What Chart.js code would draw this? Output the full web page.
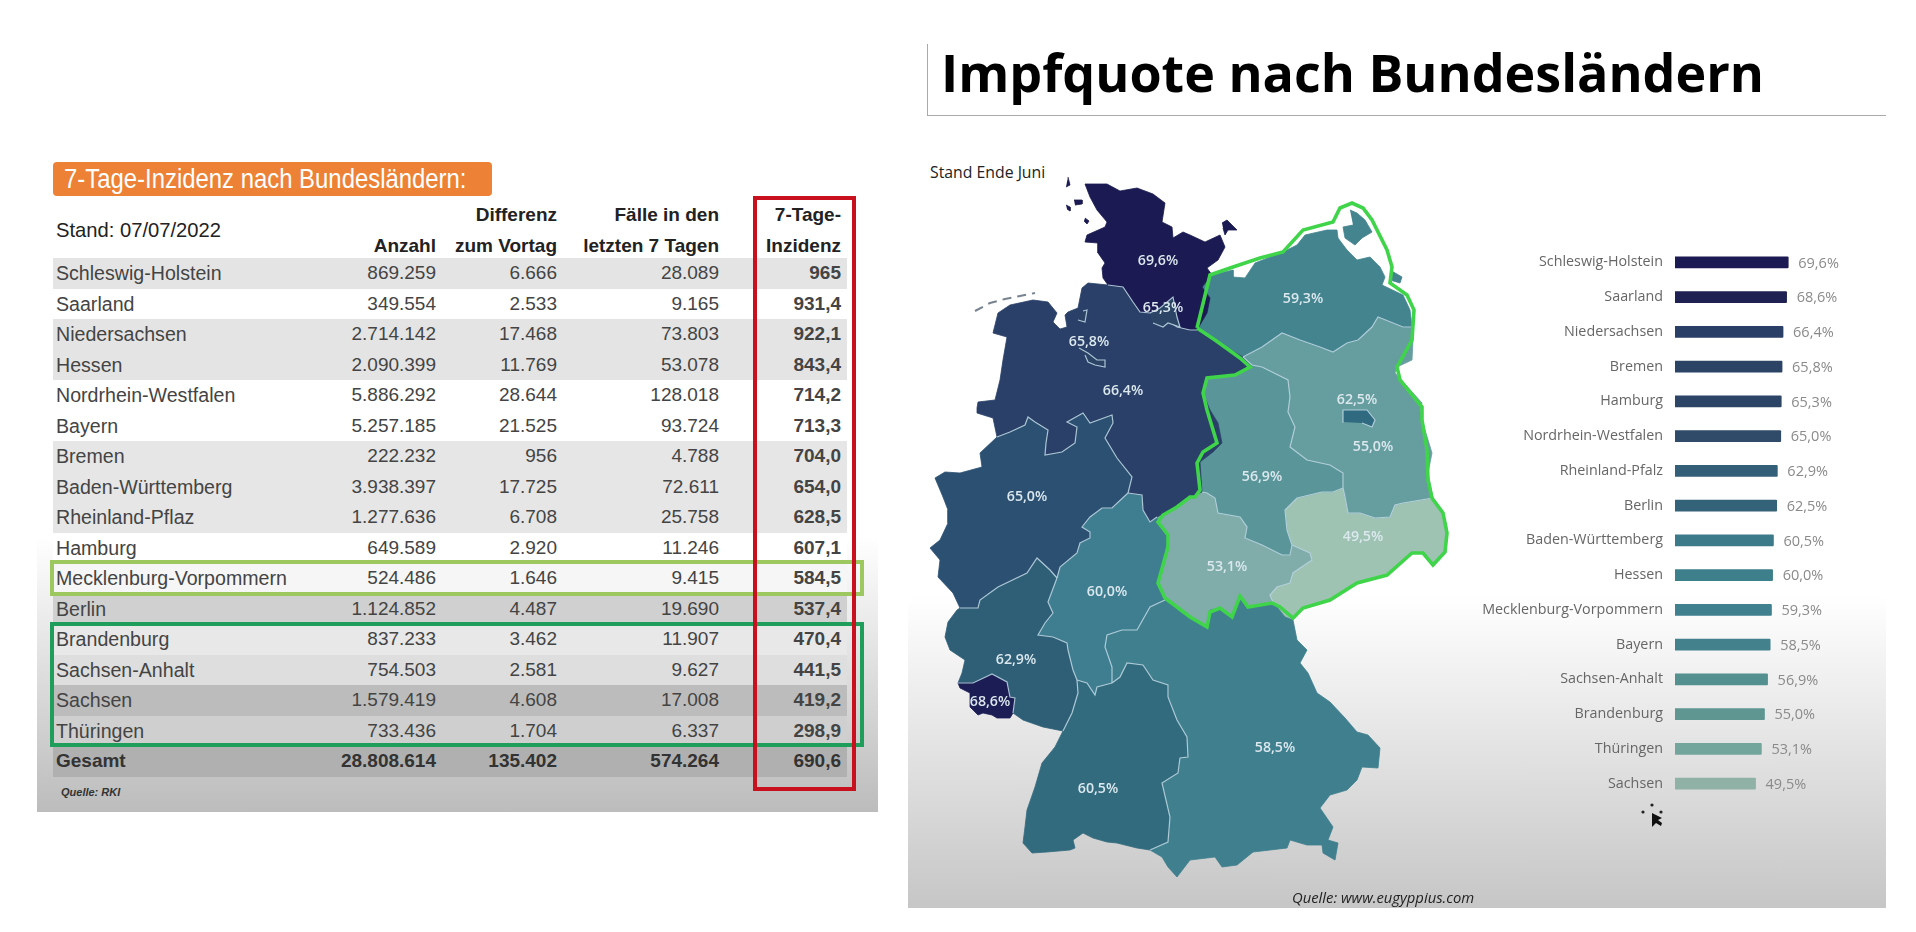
<!DOCTYPE html>
<html lang="de">
<head>
    <meta charset="UTF-8">
    <title>7-Tage-Inzidenz und Impfquote nach Bundesländern</title>
    <script src="https://cdn.jsdelivr.net/npm/chart.js"></script>
    <style>
        html, body { margin: 0; background: #fff; }
        #page { position: relative; width: 1916px; height: 932px; overflow: hidden; font-family: "Liberation Sans", sans-serif; }
        #page > * { position: absolute; }
        #leftPanel { left: 37px; top: 140px; width: 841px; height: 672px; background: linear-gradient(#fff 0, #fff 59%, #bcbcbc 100%); }
        #rightPanel { left: 908px; top: 125px; width: 978px; height: 783px; background: linear-gradient(#fff 0, #fff 60%, #c6c6c6 100%); }
        #orange { left: 53px; top: 162px; width: 439px; height: 34px; line-height: 34px; background: #ed8136; border-radius: 4px; color: #fff; white-space: nowrap; overflow: hidden; }
        #orange span { display: inline-block; font-size: 27px; margin-left: 11px; transform: scaleX(0.885); transform-origin: left center; }
        #stand { left: 56px; top: 219px; font-size: 20.2px; color: #222; }
        table { border-collapse: collapse; table-layout: fixed; width: 794px; font-size: 19px; color: #444; }
        td { padding: 0; text-align: right; height: 30.5px; line-height: 30.5px; white-space: nowrap; }
        td:first-child { text-align: left; padding-left: 3px; }
        td:last-child { padding-right: 6px; font-weight: bold; }
        #rows td:first-child { font-size: 19.6px; }
        #head { left: 53px; top: 200px; color: #222; font-weight: bold; }
        #rows { left: 53px; top: 258px; }
        .total td { font-weight: bold; color: #333; }
        #rows .total td:first-child { font-size: 19px; }
        .box { box-sizing: border-box; }
        #redBox { left: 753px; top: 196px; width: 103px; height: 595px; border: 4px solid #c8101e; }
        #limeBox { left: 50px; top: 560px; width: 814px; height: 36px; border: 4px solid #9dc860; }
        #greenBox { left: 50px; top: 622px; width: 814px; height: 125px; border: 4px solid #1e9e5a; }
        #rki { left: 61px; top: 786px; font-size: 11px; font-style: italic; color: #333; }
        #title { left: 941px; top: 36px; font-family: "Open Sans", sans-serif; font-weight: 700; font-size: 52px; line-height: 72px; color: #000; white-space: nowrap; }
        #ruleV { left: 927px; top: 44px; width: 1px; height: 71px; background: #aaa; }
        #ruleH { left: 927px; top: 115px; width: 959px; height: 1px; background: #aaa; }
        #asof { left: 930px; top: 161px; font-family: "Open Sans", sans-serif; font-size: 15.8px; color: #222; white-space: nowrap; }
        #source { left: 1292px; top: 887px; font-family: "Open Sans", sans-serif; font-style: italic; font-size: 14.8px; color: #222; white-space: nowrap; }
        #mapCanvas { left: 908px; top: 170px; }
        #barCanvas { left: 1480px; top: 245px; }
        #cursor { left: 1638px; top: 802px; }
    </style>
</head>
<body>
<div id="page">
    <div id="leftPanel"></div>
    <div id="rightPanel"></div>

    <div id="orange"><span>7-Tage-Inzidenz nach Bundesländern:</span></div>
    <div id="stand">Stand: 07/07/2022</div>
    <table id="head"></table>
    <table id="rows"></table>
    <div id="limeBox" class="box"></div>
    <div id="greenBox" class="box"></div>
    <div id="redBox" class="box"></div>
    <div id="rki"><b>Quelle: RKI</b></div>

    <div id="title">Impfquote nach Bundesländern</div>
    <div id="ruleV"></div>
    <div id="ruleH"></div>
    <div id="asof">Stand Ende Juni</div>
    <canvas id="mapCanvas" width="552" height="720"></canvas>
    <canvas id="barCanvas" width="374" height="556"></canvas>
    <div id="source">Quelle: www.eugyppius.com</div>

    <svg id="cursor" width="32" height="32" viewBox="0 0 32 32">
        <circle cx="14" cy="3" r="1.6" fill="#222"/><circle cx="5" cy="10" r="1.6" fill="#222"/><circle cx="23" cy="10" r="1.6" fill="#222"/>
        <path d="M14 11 L14 25 L18 21 L23 24 L24 21 L20 18 L24 16 Z" fill="#111"/>
    </svg>
</div>

<script>
    // table on the left
    const tableHead1 = ['', '', 'Differenz', 'Fälle in den', '7-Tage-'];
    const tableHead2 = ['', 'Anzahl', 'zum Vortag', 'letzten 7 Tagen', 'Inzidenz'];
    const incStates = ['Schleswig-Holstein', 'Saarland', 'Niedersachsen', 'Hessen', 'Nordrhein-Westfalen', 'Bayern', 'Bremen', 'Baden-Württemberg', 'Rheinland-Pflaz', 'Hamburg', 'Mecklenburg-Vorpommern', 'Berlin', 'Brandenburg', 'Sachsen-Anhalt', 'Sachsen', 'Thüringen', 'Gesamt'];
    const incCount = ['869.259', '349.554', '2.714.142', '2.090.399', '5.886.292', '5.257.185', '222.232', '3.938.397', '1.277.636', '649.589', '524.486', '1.124.852', '837.233', '754.503', '1.579.419', '733.436', '28.808.614'];
    const incDiff = ['6.666', '2.533', '17.468', '11.769', '28.644', '21.525', '956', '17.725', '6.708', '2.920', '1.646', '4.487', '3.462', '2.581', '4.608', '1.704', '135.402'];
    const incWeek = ['28.089', '9.165', '73.803', '53.078', '128.018', '93.724', '4.788', '72.611', '25.758', '11.246', '9.415', '19.690', '11.907', '9.627', '17.008', '6.337', '574.264'];
    const incRate = ['965', '931,4', '922,1', '843,4', '714,2', '713,3', '704,0', '654,0', '628,5', '607,1', '584,5', '537,4', '470,4', '441,5', '419,2', '298,9', '690,6'];
    const rowShades = ['#e4e4e4', '#ffffff', '#e4e4e4', '#e4e4e4', '#ffffff', '#ffffff', '#e6e6e6', '#e6e6e6', '#e6e6e6', '#ffffff', '#f6f6f6', '#d0d0d0', '#e8e8e8', '#dedede', '#bcbcbc', '#cfcfcf', '#b0b0b0'];

    // vaccination quota, sorted as in the bar list
    const quoteStates = ['Schleswig-Holstein', 'Saarland', 'Niedersachsen', 'Bremen', 'Hamburg', 'Nordrhein-Westfalen', 'Rheinland-Pfalz', 'Berlin', 'Baden-Württemberg', 'Hessen', 'Mecklenburg-Vorpommern', 'Bayern', 'Sachsen-Anhalt', 'Brandenburg', 'Thüringen', 'Sachsen'];
    const quoteValues = [69.6, 68.6, 66.4, 65.8, 65.3, 65.0, 62.9, 62.5, 60.5, 60.0, 59.3, 58.5, 56.9, 55.0, 53.1, 49.5];
    const barColours = ['#1b1a52', '#1f2153', '#2a3f66', '#2b4364', '#2c4566', '#2f4b69', '#335f78', '#346279', '#3c7a8a', '#3e7f8c', '#40808f', '#43818d', '#54908f', '#5f9691', '#74a59c', '#8fb1a6'];
    const mapColours = ['#1b1a52', '#1c1d55', '#2a4068', '#2b4364', '#2c4566', '#2c5072', '#2f5f77', '#2f6a80', '#336b7e', '#3f7e90', '#43848f', '#3f7f8e', '#5a9699', '#669ea0', '#80adaa', '#9ec3b2'];

    // map outlines, in map units; arcs are shared between neighbours
    const shNi = [[1108,285],[1123,287],[1133,302],[1140,312],[1150,313],[1167,320],[1177,327],[1190,330],[1197,330]];
    const niMv = [[1197,330],[1213,340],[1243,357]];
    const niSa = [[1243,357],[1252,367],[1237,375],[1207,378],[1203,393],[1210,410],[1218,423],[1222,443],[1213,452],[1200,462],[1202,492]];
    const niTh = [[1202,492],[1190,497],[1177,507],[1157,517]];
    const niHe = [[1157,517],[1150,522],[1143,510],[1142,495],[1128,493]];
    const niNw = [[1128,493],[1132,477],[1117,458],[1105,438],[1113,423],[1112,415],[1090,423],[1083,413],[1067,422],[1077,427],[1075,443],[1062,452],[1045,455],[1046,443],[1048,430],[1035,422],[1028,417],[1025,425],[1010,432],[997,437]];
    const niCoast = [[997,437],[993,418],[977,413],[977,408],[978,402],[995,400],[1000,380],[1003,360],[1007,337],[993,333],[998,313],[1010,305],[1033,300],[1048,302],[1057,313],[1053,322],[1060,329],[1067,327],[1065,315],[1068,312],[1078,308],[1082,288],[1088,283],[1108,285]];
    const nwCoast = [[997,437],[980,453],[982,467],[960,473],[945,472],[935,478],[943,497],[948,510],[948,523],[940,540],[930,548],[940,560],[938,577],[953,593],[960,608]];
    const nwRp = [[960,608],[978,608],[980,600],[998,587],[1027,573],[1037,558],[1050,570],[1057,578]];
    const nwHe = [[1057,578],[1060,567],[1077,553],[1080,543],[1090,538],[1090,532],[1082,527],[1090,517],[1102,508],[1112,508],[1128,493]];
    const rpHe = [[1057,578],[1048,602],[1053,613],[1045,623],[1038,635],[1053,637],[1067,643],[1068,650],[1073,670],[1077,680]];
    const heTh = [[1157,517],[1158,523],[1168,537],[1165,553],[1158,583],[1165,600]];
    const heBy = [[1165,600],[1150,607],[1137,630],[1122,630],[1107,635],[1105,647],[1112,667],[1112,683]];
    const heBw = [[1112,683],[1097,687],[1095,695],[1087,683],[1077,680]];
    const rpCoast = [[960,608],[957,610],[948,622],[945,637],[950,650],[965,660],[962,673],[958,683]];
    const rpSl = [[958,683],[973,683],[992,674],[1007,682],[1010,697],[1015,698],[1013,713]];
    const slCoast = [[1013,713],[1010,718],[997,718],[992,715],[983,713],[978,715],[970,707],[970,693],[960,688],[958,683]];
    const rpFrance = [[1013,713],[1023,720],[1043,727],[1063,731]];
    const rpBw = [[1063,731],[1072,713],[1078,693],[1077,680]];
    const bwCoast = [[1063,731],[1055,747],[1042,763],[1035,787],[1027,810],[1025,827],[1023,843],[1032,853],[1047,852],[1070,850],[1075,848],[1073,840],[1083,833],[1093,838],[1107,842],[1117,843],[1137,848],[1150,850]];
    const bwBy = [[1150,850],[1168,842],[1170,817],[1162,783],[1178,773],[1180,758],[1188,757],[1187,737],[1177,720],[1168,697],[1168,685],[1153,680],[1143,665],[1127,663],[1120,677],[1112,683]];
    const byCoast = [[1150,850],[1162,857],[1168,867],[1177,877],[1190,860],[1215,857],[1222,867],[1237,865],[1253,852],[1287,848],[1290,840],[1307,845],[1322,845],[1323,853],[1335,860],[1338,843],[1328,840],[1333,827],[1320,808],[1330,795],[1347,790],[1357,780],[1362,767],[1378,768],[1380,748],[1368,735],[1357,732],[1345,718],[1330,702],[1317,693],[1308,673],[1300,663],[1307,650],[1297,640],[1293,620]];
    const bySn = [[1293,620],[1285,617],[1273,602]];
    const byTh = [[1273,602],[1248,607],[1240,597],[1232,617],[1220,608],[1210,610],[1207,627],[1190,617],[1177,607],[1165,600]];
    const thSn = [[1273,602],[1270,595],[1277,587],[1290,583],[1293,573],[1312,560],[1310,553],[1292,545]];
    const saTh = [[1202,492],[1207,493],[1215,498],[1218,513],[1240,517],[1247,527],[1245,538],[1262,545],[1282,555],[1290,555],[1292,545]];
    const saSn = [[1292,545],[1287,530],[1285,510],[1297,498],[1322,492],[1333,492],[1343,488]];
    const bbSa = [[1243,357],[1252,365],[1262,367],[1288,380],[1290,397],[1288,412],[1295,427],[1290,447],[1307,460],[1330,465],[1343,473],[1343,488]];
    const snBb = [[1343,488],[1345,497],[1348,513],[1360,513],[1375,518],[1390,517],[1395,505],[1403,503],[1433,498]];
    const snCoast = [[1433,498],[1442,510],[1447,527],[1445,550],[1433,565],[1423,553],[1412,553],[1387,573],[1357,582],[1333,598],[1303,608],[1293,620]];
    const bbEast = [[1412,327],[1413,340],[1412,360],[1397,367],[1395,373],[1422,403],[1420,410],[1425,430],[1432,453],[1428,473],[1433,498]];
    const mvBb = [[1243,357],[1262,347],[1282,333],[1300,340],[1320,347],[1333,352],[1347,343],[1358,340],[1372,327],[1378,317],[1403,327],[1412,327]];
    const shMv = [[1197,330],[1207,313],[1210,298],[1202,287],[1212,275]];
    const mvCoast = [[1212,275],[1233,270],[1233,277],[1245,278],[1255,263],[1283,252],[1297,245],[1305,235],[1327,230],[1337,230],[1338,238],[1347,250],[1357,260],[1370,257],[1380,267],[1385,277],[1382,285],[1403,295],[1410,310],[1412,327]];
    const shCoast = [[1212,275],[1207,268],[1218,260],[1225,247],[1220,235],[1205,242],[1190,235],[1183,232],[1173,238],[1172,227],[1162,222],[1165,203],[1153,194],[1137,188],[1120,191],[1107,184],[1085,184],[1090,197],[1097,210],[1107,222],[1105,227],[1087,235],[1085,242],[1098,243],[1098,253],[1105,263],[1102,268],[1103,278],[1108,285]];

    // city states and islands
    const bremenCity = [[1079,348],[1088,353],[1097,360],[1105,360],[1105,367],[1095,365],[1088,362],[1085,355]];
    const bremerhaven = [[1083,311],[1087,310],[1085,322],[1078,320]];
    const hamburgCity = [[1150,313],[1160,308],[1173,297],[1177,317],[1180,327],[1168,323],[1163,327],[1153,323]];
    const berlinCity = [[1342,422],[1343,410],[1367,410],[1375,420],[1372,427],[1362,423]];
    const fehmarn = [[1222,223],[1227,220],[1237,230],[1228,230],[1225,235],[1223,228]];
    const ruegen = [[1350,210],[1357,213],[1365,220],[1372,232],[1362,238],[1355,245],[1345,238],[1343,227],[1353,225]];
    const usedom = [[1390,270],[1402,277],[1400,283],[1390,280]];
    const frisianNorth = [[[1074,200],[1082,200],[1082,204],[1075,205]], [[1066,205],[1070,207],[1070,211],[1067,209]], [[1085,218],[1089,221],[1087,224],[1084,221]], [[1068,177],[1070,185],[1066,187]]];
    const frisianEast = [[975,311],[990,303],[1005,299],[1020,296],[1035,293]];
    const greenOutline = [[1197,328],[1210,275],[1233,267],[1260,258],[1283,252],[1303,230],[1333,222],[1340,208],[1352,203],[1363,208],[1372,220],[1387,250],[1392,267],[1390,283],[1407,295],[1414,310],[1412,340],[1397,367],[1400,380],[1422,407],[1422,420],[1427,450],[1428,480],[1432,498],[1443,513],[1447,533],[1445,552],[1433,565],[1423,553],[1412,553],[1387,575],[1357,583],[1330,600],[1303,608],[1293,618],[1280,607],[1272,603],[1248,607],[1240,596],[1232,617],[1220,608],[1210,612],[1207,627],[1190,617],[1165,598],[1158,583],[1168,547],[1168,535],[1158,522],[1163,515],[1177,507],[1190,497],[1195,497],[1200,490],[1197,463],[1203,452],[1217,443],[1210,420],[1207,410],[1203,393],[1207,378],[1235,375],[1250,367],[1240,358],[1215,340],[1197,328]];

    // map label anchors, same order as quoteStates
    const labelX = [1158, 990, 1123, 1089, 1163, 1027, 1016, 1357, 1098, 1107, 1303, 1275, 1262, 1373, 1227, 1363];
    const labelY = [261, 702, 391, 342, 308, 497, 660, 400, 789, 592, 299, 748, 477, 447, 567, 537];

    // build the table
    function fillTable(el, rows, shades) {
        el.innerHTML = '<colgroup><col style="width:247px"><col style="width:136px"><col style="width:121px"><col style="width:162px"><col style="width:128px"></colgroup>' +
            rows.map((cells, i) => `<tr style="background:${shades ? shades[i] : 'transparent'}" class="${shades && i === rows.length - 1 ? 'total' : ''}">` +
                cells.map(c => `<td>${c}</td>`).join('') + '</tr>').join('');
    }
    fillTable(document.getElementById('head'), [tableHead1, tableHead2]);
    fillTable(document.getElementById('rows'), incStates.map((s, i) => [s, incCount[i], incDiff[i], incWeek[i], incRate[i]]), rowShades);

    const pct = v => v.toFixed(1).replace('.', ',') + '%';
    const rev = arc => [...arc].reverse();
    const toPts = pts => pts.map(p => ({x: p[0], y: p[1]}));

    const stateShapes = {
        'Schleswig-Holstein': [shCoast, shNi, shMv],
        'Saarland': [rpSl, slCoast],
        'Niedersachsen': [niCoast, shNi, niMv, niSa, niTh, niHe, niNw],
        'Nordrhein-Westfalen': [nwCoast, nwRp, nwHe, niNw],
        'Rheinland-Pfalz': [rev(nwRp), rpCoast, rpSl, rpFrance, rpBw, rev(rpHe)],
        'Baden-Württemberg': [bwCoast, bwBy, heBw, rev(rpBw)],
        'Hessen': [nwHe, rev(niHe), heTh, heBy, heBw, rev(rpHe)],
        'Mecklenburg-Vorpommern': [shMv, mvCoast, rev(mvBb), rev(niMv)],
        'Bayern': [byCoast, bySn, byTh, heBy, rev(bwBy)],
        'Sachsen-Anhalt': [niSa, saTh, saSn, rev(bbSa)],
        'Brandenburg': [mvBb, bbEast, rev(snBb), rev(bbSa)],
        'Thüringen': [saTh, rev(thSn), byTh, rev(heTh), rev(niTh)],
        'Sachsen': [snBb, snCoast, rev(bySn), thSn, saSn]
    };

    function fillSet(points, colour, line, order) {
        return {data: toPts(points), showLine: true, fill: 'shape', backgroundColor: colour, borderColor: line || colour, borderWidth: line ? 1.2 : 0.8, pointRadius: 0, tension: 0, order: order};
    }
    function lineSet(points, colour, width, order, dash) {
        return {data: toPts(points), showLine: true, fill: false, borderColor: colour, borderWidth: width, borderDash: dash || [], pointRadius: 0, tension: 0, order: order};
    }

    const colourOf = name => mapColours[quoteStates.indexOf(name)];
    const innerLine = 'rgba(185,212,224,0.9)';
    const mapSets = [];
    Object.keys(stateShapes).forEach(name => mapSets.push(fillSet(stateShapes[name].flat(), colourOf(name), null, 5)));
    [fehmarn].forEach(s => mapSets.push(fillSet(s, colourOf('Schleswig-Holstein'), null, 5)));
    frisianNorth.forEach(s => mapSets.push(fillSet(s, colourOf('Schleswig-Holstein'), null, 5)));
    [ruegen, usedom].forEach(s => mapSets.push(fillSet(s, colourOf('Mecklenburg-Vorpommern'), null, 5)));
    mapSets.push(lineSet(frisianEast, '#77838f', 2, 5, [9, 6]));
    [shNi, niHe, niNw, nwRp, nwHe, rpHe, heBy, heBw, rpBw, bwBy, rpSl, saTh, saSn, bbSa, snBb, mvBb, thSn].forEach(a => mapSets.push(lineSet(a, innerLine, 1.2, 4)));
    mapSets.push(fillSet(bremenCity, colourOf('Bremen'), innerLine, 3));
    mapSets.push(fillSet(bremerhaven, colourOf('Bremen'), innerLine, 3));
    mapSets.push(fillSet(hamburgCity, colourOf('Hamburg'), innerLine, 3));
    mapSets.push(fillSet(berlinCity, colourOf('Berlin'), innerLine, 3));
    mapSets.push(lineSet(greenOutline, '#3fd44a', 3.6, 1));

    const mapLabels = {
        id: 'mapLabels',
        afterDatasetsDraw(chart) {
            const ctx = chart.ctx;
            ctx.save();
            ctx.font = '600 14.2px "Open Sans"';
            ctx.textAlign = 'center';
            ctx.textBaseline = 'middle';
            ctx.fillStyle = '#dbe8ee';
            quoteValues.forEach((v, i) => {
                ctx.fillText(pct(v), chart.scales.x.getPixelForValue(labelX[i]), chart.scales.y.getPixelForValue(labelY[i]));
            });
            ctx.restore();
        }
    };

    new Chart(document.getElementById('mapCanvas'), {
        type: 'scatter',
        data: {datasets: mapSets},
        plugins: [mapLabels],
        options: {
            responsive: false,
            animation: false,
            layout: {padding: 0},
            plugins: {legend: {display: false}, tooltip: {enabled: false}},
            scales: {
                x: {type: 'linear', display: false, min: 908, max: 1460},
                y: {type: 'linear', display: false, reverse: true, min: 170, max: 890}
            }
        }
    });

    const barLabels = {
        id: 'barLabels',
        afterDatasetsDraw(chart) {
            const ctx = chart.ctx;
            ctx.save();
            ctx.font = '14.5px "Open Sans"';
            ctx.textBaseline = 'middle';
            ctx.fillStyle = '#8a8a8a';
            chart.getDatasetMeta(0).data.forEach((bar, i) => {
                ctx.fillText(pct(quoteValues[i]), bar.x + 10, bar.y + 1);
            });
            ctx.restore();
        }
    };

    new Chart(document.getElementById('barCanvas'), {
        type: 'bar',
        data: {
            labels: quoteStates,
            datasets: [{data: quoteValues, backgroundColor: barColours, barThickness: 11, borderRadius: 1}]
        },
        plugins: [barLabels],
        options: {
            indexAxis: 'y',
            responsive: false,
            animation: false,
            layout: {padding: 0},
            plugins: {legend: {display: false}, tooltip: {enabled: false}},
            scales: {
                x: {display: false, min: 0, max: 110},
                y: {
                    grid: {display: false, drawTicks: false},
                    border: {display: false},
                    ticks: {color: '#666', padding: 12, font: {family: 'Open Sans', size: 14.3}, autoSkip: false},
                    afterFit(scale) {
                        scale.width = 195;
                        scale.paddingTop = 0;
                        scale.paddingBottom = 0;
                    }
                }
            }
        }
    });
</script>
</body>
</html>
